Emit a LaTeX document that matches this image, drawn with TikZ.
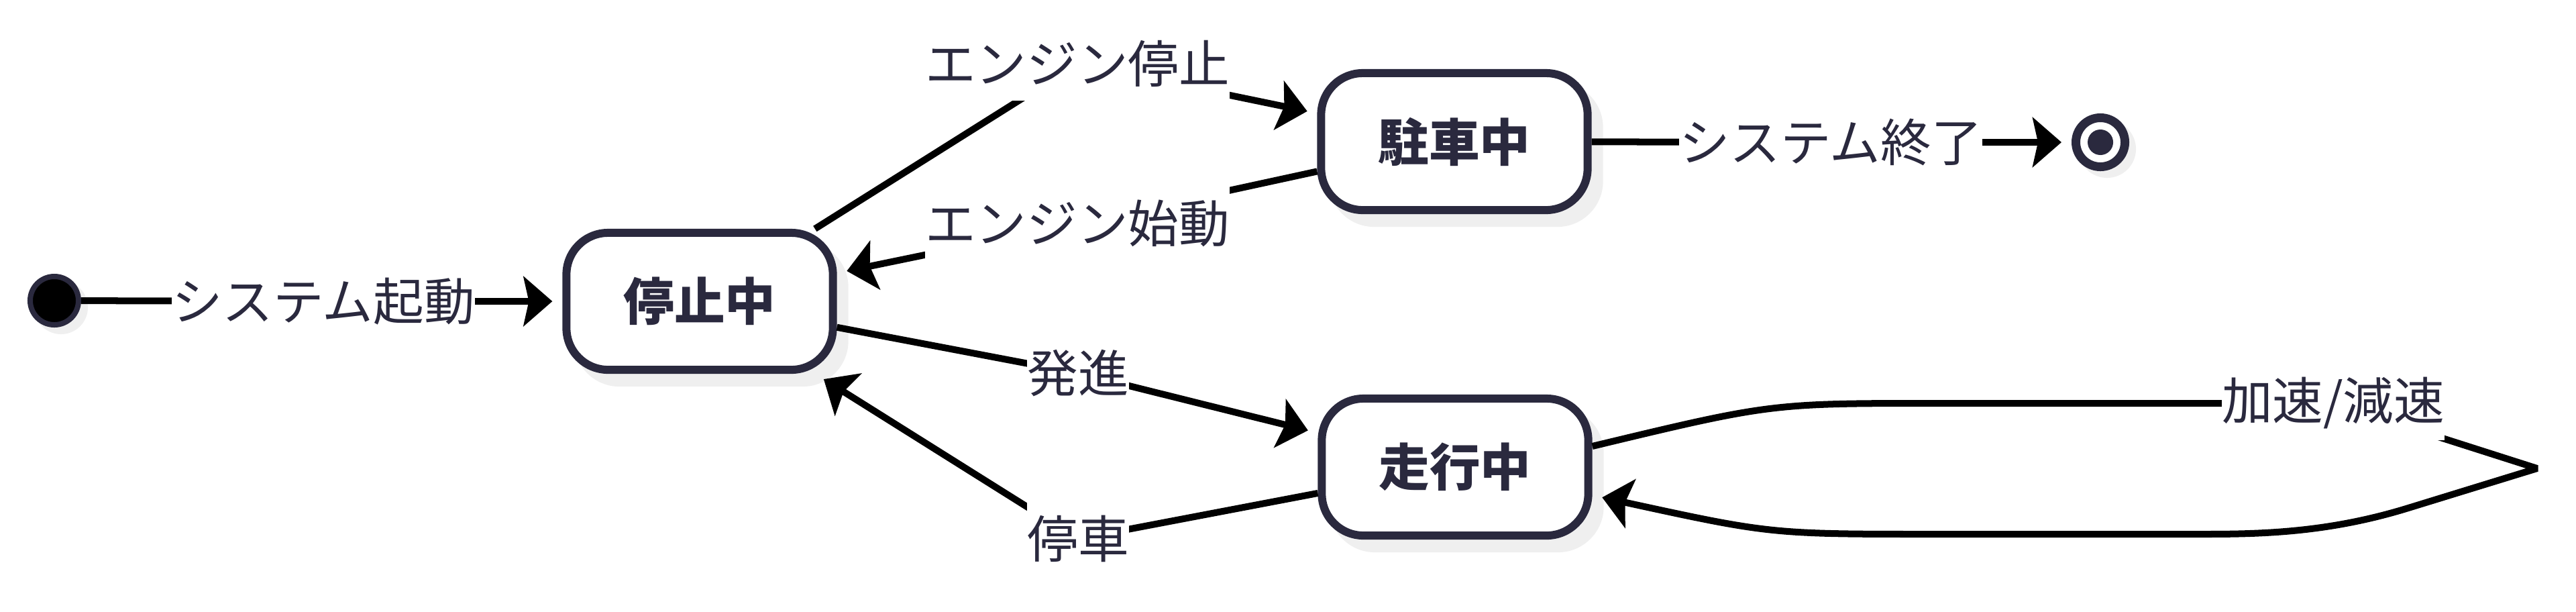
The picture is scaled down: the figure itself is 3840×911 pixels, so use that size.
\documentclass[tikz,border=0pt]{standalone}
\usepackage{fontspec}
\setmainfont{Noto Sans CJK JP}
\usetikzlibrary{arrows.meta,shadows}
\definecolor{navy}{RGB}{42,41,62}
\definecolor{shade}{RGB}{239,239,239}
\begin{document}
\begin{tikzpicture}[x=0.01cm,y=-0.01cm,
  stbox/.style={draw=navy, line width=0.12cm, fill=white, rounded corners=0.62cm,
    minimum width=3.97cm, minimum height=2.04cm, inner sep=0,
    font=\fontsize{21.5}{26}\selectfont\bfseries, text=navy,
    general shadow={shadow xshift=0.17cm, shadow yshift=-0.19cm, fill=shade, draw=shade}},
  edge/.style={line width=0.1cm, draw=black,
    -{Stealth[length=0.43cm,width=0.74cm,inset=0.08cm]}, shorten >=0.15cm},
  elabel/.style={fill=white, text=navy, inner sep=0, minimum height=1.1cm,
    font=\fontsize{21.5}{26}\selectfont},
  cshadow/.style={general shadow={shadow xshift=0.1cm, shadow yshift=-0.1cm, fill=shade, draw=shade}},
]
\useasboundingbox (0,0) rectangle (3840,911);

% states
\node[circle, fill=black, draw=navy, line width=0.08cm, minimum size=0.72cm, inner sep=0, cshadow] (init) at (81,448) {};
\node[stbox] (stop) at (1043,449) {停止中};
\node[stbox] (park) at (2168,211) {駐車中};
\node[stbox] (run)  at (2169,696) {走行中};
\node[circle, draw=navy, fill=white, line width=0.13cm, minimum size=0.73cm, inner sep=0, cshadow] (fin) at (3131,212) {};
\node[circle, fill=navy, minimum size=0.38cm, inner sep=0] (findot) at (fin.center) {};

% label points
\coordinate (l1) at (482,449);
\coordinate (l2) at (1606,95);
\coordinate (l3) at (1606,333);
\coordinate (l4) at (1607,556);
\coordinate (l5) at (1607,803);
\coordinate (l6) at (2729,212);
\coordinate (l7) at (3478,601);
\coordinate (a1) at (2889,601);
\coordinate (a2) at (3782,698);
\coordinate (a3) at (3590,757);
\coordinate (a4) at (3282,796);
\coordinate (a5) at (2889,796);

% transitions
\draw[edge] (init) -- (l1) node[elabel] (t1) {システム起動} -- (stop);
\draw[edge] (stop) -- (l2) node[elabel] (t2) {エンジン停止} -- (park);
\draw[edge] (park) -- (l3) node[elabel] (t3) {エンジン始動} -- (stop);
\draw[edge] (stop) -- (l4) node[elabel] (t4) {発進} -- (run);
\draw[edge] (run) -- (l5) node[elabel] (t5) {停車} -- (stop);
\draw[edge] (park) -- (l6) node[elabel] (t6) {システム終了} -- (fin);
\draw[edge, line join=bevel] ([yshift=0.31cm]run.east) .. controls (2640,601) .. (a1)
  -- (l7) node[elabel] (t7) {加速/減速}
  -- (a2) -- (a3) .. controls (3470,794) and (3370,796) .. (a4) -- (a5)
  .. controls (2640,796) .. ([yshift=-0.42cm]run.east);
\end{tikzpicture}
\end{document}
